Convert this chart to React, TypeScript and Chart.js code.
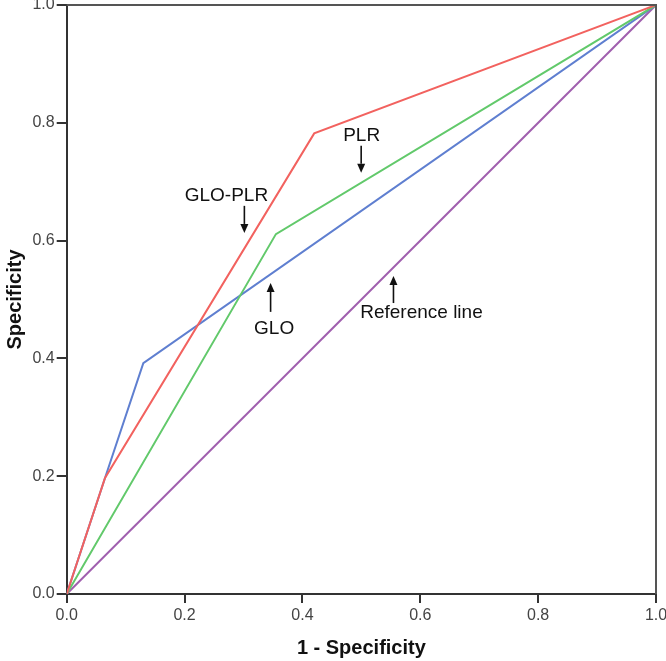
import React, { useEffect, useRef } from "react";
import { Chart, registerables } from "chart.js";

Chart.register(...registerables);

// ROC curve points (1 - specificity on x, specificity on y)
const fprGloPlr = [0, 0.065, 0.42, 1];
const sensGloPlr = [0, 0.197, 0.782, 1];
const fprPlr = [0, 0.355, 1];
const sensPlr = [0, 0.611, 1];
const fprGlo = [0, 0.065, 0.13, 1];
const sensGlo = [0, 0.197, 0.392, 1];
const fprRef = [0, 1];
const sensRef = [0, 1];

const seriesNames = ["GLO-PLR", "PLR", "GLO", "Reference line"];
const seriesColors = ["#f2625f", "#62c96b", "#5f7fd0", "#a05fae"];

// Callout labels: text position and arrow (from -> tip) in data units
const calloutText = ["GLO-PLR", "PLR", "GLO", "Reference line"];
const calloutTextX = [0.271, 0.5005, 0.352, 0.602];
const calloutTextY = [0.676, 0.778, 0.45, 0.477];
const calloutArrowX = [0.3015, 0.4997, 0.346, 0.5545];
const calloutArrowFromY = [0.659, 0.761, 0.479, 0.494];
const calloutArrowToY = [0.613, 0.715, 0.528, 0.54];

const axisTicks = [0, 0.2, 0.4, 0.6, 0.8, 1.0];

const toPoints = (xs: number[], ys: number[]) => xs.map((x, i) => ({ x, y: ys[i] }));

const framePlugin = {
  id: "frameAndCallouts",
  afterDatasetsDraw(chart: any) {
    const { ctx, chartArea, scales } = chart;
    const xs = scales.x;
    const ys = scales.y;
    ctx.save();
    // top and right frame lines
    ctx.strokeStyle = "#555";
    ctx.lineWidth = 2;
    ctx.beginPath();
    ctx.moveTo(chartArea.left, chartArea.top);
    ctx.lineTo(chartArea.right, chartArea.top);
    ctx.lineTo(chartArea.right, chartArea.bottom);
    ctx.stroke();

    // callouts
    ctx.font = "19px 'Liberation Sans', Arial, sans-serif";
    ctx.fillStyle = "#111";
    ctx.textAlign = "center";
    ctx.textBaseline = "middle";
    calloutText.forEach((t, i) => {
      ctx.fillStyle = "#111";
      ctx.fillText(t, xs.getPixelForValue(calloutTextX[i]), ys.getPixelForValue(calloutTextY[i]));
      const ax = xs.getPixelForValue(calloutArrowX[i]);
      const y0 = ys.getPixelForValue(calloutArrowFromY[i]);
      const y1 = ys.getPixelForValue(calloutArrowToY[i]);
      const dir = y1 > y0 ? 1 : -1;
      const head = 9;
      ctx.strokeStyle = "#111";
      ctx.lineWidth = 1.6;
      ctx.beginPath();
      ctx.moveTo(ax, y0);
      ctx.lineTo(ax, y1 - dir * head);
      ctx.stroke();
      ctx.beginPath();
      ctx.moveTo(ax, y1);
      ctx.lineTo(ax - 4, y1 - dir * head);
      ctx.lineTo(ax + 4, y1 - dir * head);
      ctx.closePath();
      ctx.fill();
    });
    ctx.restore();
  },
};

export default function App() {
  const canvasRef = useRef<HTMLCanvasElement | null>(null);

  useEffect(() => {
    const canvas = canvasRef.current;
    if (!canvas) return;
    const tickFont = { family: "'Liberation Sans', Arial, sans-serif", size: 16 };
    const titleFont = { family: "'Liberation Sans', Arial, sans-serif", size: 20, weight: "bold" as const };
    const pointsList = [
      toPoints(fprGloPlr, sensGloPlr),
      toPoints(fprPlr, sensPlr),
      toPoints(fprGlo, sensGlo),
      toPoints(fprRef, sensRef),
    ];
    const chart = new Chart(canvas, {
      type: "scatter",
      data: {
        datasets: seriesNames.map((name, i) => ({
          label: name,
          data: pointsList[i],
          showLine: true,
          borderColor: seriesColors[i],
          backgroundColor: seriesColors[i],
          borderWidth: 2,
          pointRadius: 0,
          tension: 0,
        })),
      },
      options: {
        animation: false,
        responsive: false,
        devicePixelRatio: 1,
        layout: { padding: { top: 5, right: 10, left: 0, bottom: 0 } },
        plugins: { legend: { display: false }, tooltip: { enabled: false } },
        scales: {
          x: {
            type: "linear",
            min: 0,
            max: 1,
            afterBuildTicks: (scale: any) => {
              scale.ticks = axisTicks.map((v) => ({ value: v }));
            },
            afterFit: (scale: any) => {
              scale.height = 67;
              scale.paddingLeft = 0;
              scale.paddingRight = 0;
            },
            ticks: {
              font: tickFont,
              color: "#444",
              padding: 3,
              maxRotation: 0,
              callback: (v: any) => Number(v).toFixed(1),
            },
            grid: { display: true, drawOnChartArea: false, drawTicks: true, tickLength: 9, color: "#333", lineWidth: 2 },
            border: { display: true, color: "#333", width: 2 },
            title: { display: true, text: "1 - Specificity", font: titleFont, color: "#111", padding: { top: 0, bottom: 1 } },
          },
          y: {
            type: "linear",
            min: 0,
            max: 1,
            afterBuildTicks: (scale: any) => {
              scale.ticks = axisTicks.map((v) => ({ value: v }));
            },
            afterFit: (scale: any) => {
              scale.width = 66.7;
              scale.paddingTop = 0;
              scale.paddingBottom = 0;
            },
            ticks: {
              font: tickFont,
              color: "#444",
              padding: 2,
              callback: (v: any) => Number(v).toFixed(1),
            },
            grid: { display: true, drawOnChartArea: false, drawTicks: true, tickLength: 10, color: "#333", lineWidth: 2 },
            border: { display: true, color: "#333", width: 2 },
            title: { display: true, text: "Specificity", font: titleFont, color: "#111", padding: { top: 3, bottom: 0 } },
          },
        },
      },
      plugins: [framePlugin],
    });
    return () => chart.destroy();
  }, []);

  return (
    <div style={{ position: "absolute", left: 0, top: 0, width: 666, height: 661, background: "#fff" }}>
      <canvas ref={canvasRef} width={666} height={661} style={{ width: 666, height: 661, display: "block" }} />
    </div>
  );
}
